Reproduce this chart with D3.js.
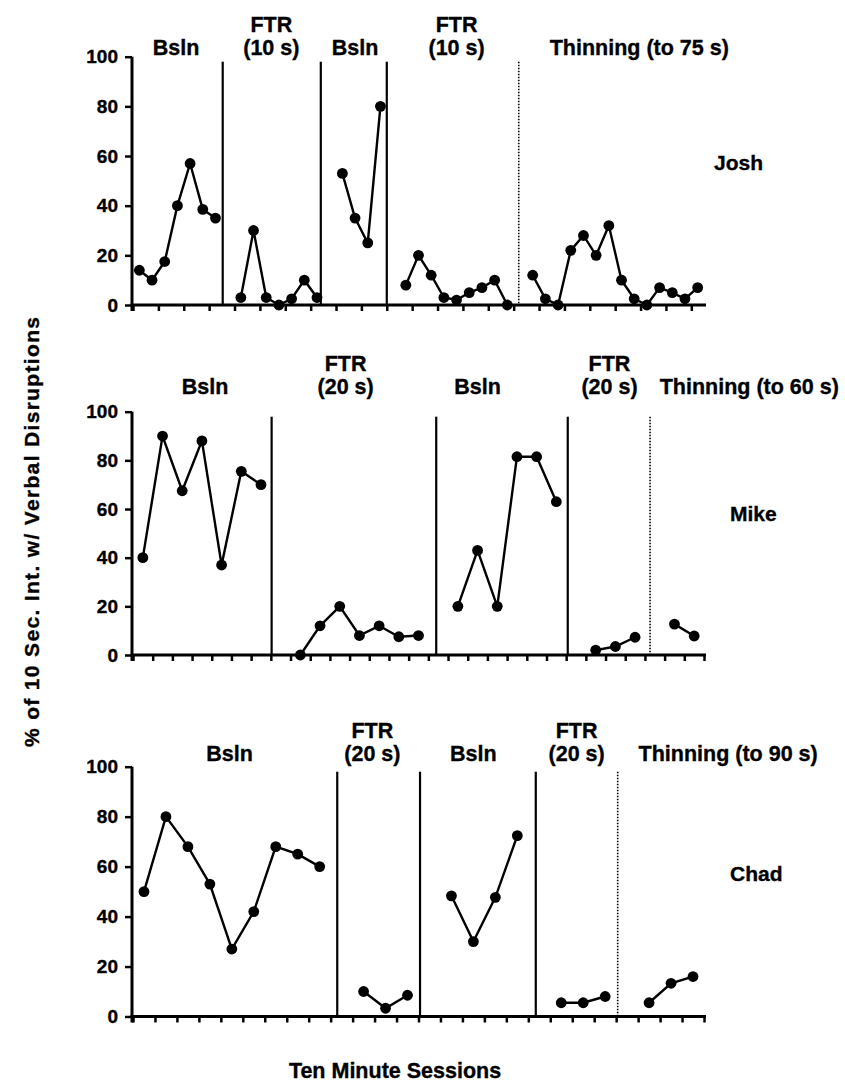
<!DOCTYPE html>
<html>
<head>
<meta charset="utf-8">
<script src="https://cdn.jsdelivr.net/npm/d3@7"></script>
<style>
body { margin: 0; background: #fff; }
text { font-family: "Liberation Sans", Arial, sans-serif; font-weight: bold; fill: #000; stroke: #000; stroke-width: 0.35px; }
</style>
</head>
<body>
<svg id="chart" width="845" height="1082"></svg>
<script>
// values per phase, slot where each phase starts, phase change lines (in slots)
var joshValues = [[14,10,17.5,40,57,38.5,35],[3,30,3,0,2.5,10,3],[53,35,25,80],[8,20,12,3,2,5,7,10,0],[12,2.5,0,22,28,20,32,10,2.5,0,7,5,2.5,7]];
var joshStarts = [0,8,16,21,31];
var joshLines = [7.07,14.8,20,30.4];
var joshLabels = [["Bsln"],["FTR","(10 s)"],["Bsln"],["FTR","(10 s)"],["Thinning (to 75 s)"]];

var mikeValues = [[40,90,67.5,88,37,75.5,70],[0,12,20,8,12,7.5,8],[20,43,20,81.5,81.5,63],[2,3.5,7.3],[12.7,7.8]];
var mikeStarts = [0,8,16,23,27];
var mikeLines = [7.04,15.4,22.08,26.26];
var mikeLabels = [["Bsln"],["FTR","(20 s)"],["Bsln"],["FTR","(20 s)"],["Thinning (to 60 s)"]];

var chadValues = [[50,80,68,53,27,42,68,65,60],[10,3.3,8.5],[48.3,30,47.7,72.4],[5.5,5.5,8],[5.5,13.3,16]];
var chadStarts = [0,10,14,19,23];
var chadLines = [9.3,13.07,18.34,22.07];
var chadLabels = [["Bsln"],["FTR","(20 s)"],["Bsln"],["FTR","(20 s)"],["Thinning (to 90 s)"]];

var yTicks = [0,20,40,60,80,100];

var panels = [
  {name:"Josh", values:joshValues, starts:joshStarts, lines:joshLines, labels:joshLabels,
   slots:45, tickStep:2, y0:305, y100:56.7, labelY:55, labelAt:[3.4,10.9,17.5,25.5,39.9], nameX:714, nameY:170},
  {name:"Mike", values:mikeValues, starts:mikeStarts, lines:mikeLines, labels:mikeLabels,
   slots:29, tickStep:1, y0:655, y100:411.7, labelY:394, labelAt:[3.66,10.8,17.5,24.2,31.3], nameX:730, nameY:521},
  {name:"Chad", values:chadValues, starts:chadStarts, lines:chadLines, labels:chadLabels,
   slots:26, tickStep:1, y0:1016.5, y100:766.7, labelY:761, labelAt:[4.4,10.9,15.5,20.2,27.1], nameX:730, nameY:881}
];

var svg = d3.select('#chart');
var left = 133, right = 704;

panels.forEach(function(p){
  var g = svg.append('g');
  var x = d3.scaleLinear().domain([0, p.slots]).range([left, right]);
  var y = d3.scaleLinear().domain([0, 100]).range([p.y0, p.y100]);

  // y axis
  var yAxis = g.append('g')
    .attr('transform', 'translate(' + (left - 1) + ',0)')
    .call(d3.axisLeft(y).tickValues(yTicks).tickSize(7).tickSizeOuter(0).tickPadding(7));
  yAxis.select('.domain').remove();
  yAxis.selectAll('line').attr('stroke', '#000').attr('stroke-width', 2.5);
  yAxis.selectAll('text').style('font-size', '19px').attr('fill', '#000');

  // x axis ticks every slot (or every other)
  var bounds = d3.range(0, p.slots + 1, p.tickStep);
  var xAxis = g.append('g')
    .attr('transform', 'translate(0,' + p.y0 + ')')
    .call(d3.axisBottom(x).tickValues(bounds).tickSize(6).tickSizeOuter(0).tickFormat(''));
  xAxis.select('.domain').remove();
  xAxis.selectAll('line').attr('stroke', '#000').attr('stroke-width', 2.5);

  g.append('line')
    .attr('x1', left - 1).attr('x2', left - 1)
    .attr('y1', y(100)).attr('y2', p.y0 + 6)
    .attr('stroke', '#000').attr('stroke-width', 3);
  g.append('line')
    .attr('x1', left - 2.5).attr('x2', x(p.slots) + 2)
    .attr('y1', p.y0).attr('y2', p.y0)
    .attr('stroke', '#000').attr('stroke-width', 3);

  // phase change lines
  p.lines.forEach(function(s, i){
    var dotted = i == p.lines.length - 1;
    g.append('line')
      .attr('x1', x(s)).attr('x2', x(s))
      .attr('y1', y(100) + 5).attr('y2', p.y0)
      .attr('stroke', '#000')
      .attr('stroke-width', dotted ? 1.6 : 2.2)
      .attr('stroke-dasharray', dotted ? '1.5,1.5' : null);
  });

  // data paths
  var line = d3.line();
  p.values.forEach(function(vals, k){
    var pts = vals.map(function(v, i){ return [x(p.starts[k] + i + 0.5), y(v)]; });
    g.append('path')
      .attr('d', line(pts))
      .attr('fill', 'none').attr('stroke', '#000').attr('stroke-width', 2.4);
    g.selectAll(null).data(pts).enter().append('circle')
      .attr('cx', function(d){ return d[0]; })
      .attr('cy', function(d){ return d[1]; })
      .attr('r', 5.4)
      .attr('fill', '#000');
  });

  // phase labels
  p.labels.forEach(function(lines, k){
    lines.forEach(function(t, j){
      g.append('text')
        .attr('x', x(p.labelAt[k]))
        .attr('y', p.labelY - (lines.length - 1 - j) * 23)
        .attr('text-anchor', 'middle')
        .style('font-size', '21.5px')
        .text(t);
    });
  });

  g.append('text')
    .attr('x', p.nameX).attr('y', p.nameY)
    .style('font-size', '21px')
    .text(p.name);
});

// axis titles
svg.append('text')
  .attr('transform', 'translate(39,532) rotate(-90)')
  .attr('text-anchor', 'middle')
  .attr('textLength', 430)
  .attr('lengthAdjust', 'spacing')
  .style('font-size', '21px')
  .text('% of 10 Sec. Int. w/ Verbal Disruptions');

svg.append('text')
  .attr('x', 395).attr('y', 1078)
  .attr('text-anchor', 'middle')
  .style('font-size', '21.5px')
  .text('Ten Minute Sessions');
</script>
</body>
</html>
